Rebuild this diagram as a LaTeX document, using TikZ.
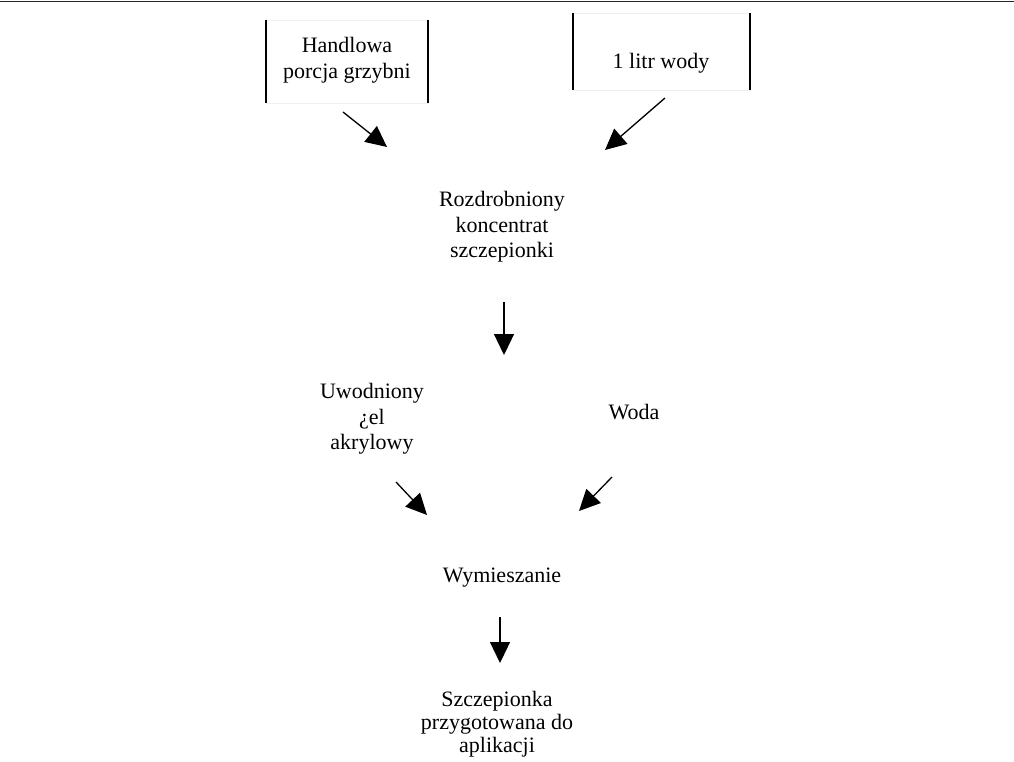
\documentclass[tikz,border=0pt]{standalone}
\usepackage{fontspec}
\setmainfont{Liberation Serif}
\usetikzlibrary{arrows.meta}

\begin{document}
\begin{tikzpicture}[x=1pt, y=-1pt, >={Triangle[length=21pt, width=20pt]},
    lbl/.style={align=center, inner sep=0pt, font=\fontsize{22}{25.5}\selectfont},
    inbox/.style={draw=black!6, line width=0.6pt, inner sep=0pt},
    flow/.style={->, line width=1.3pt}]
    \useasboundingbox (0,0) rectangle (1014,762);
    \draw[line width=1.2pt, black!85] (0,1.5) -- (1014,1.5);

    % inputs
    \node[inbox, minimum width=162pt, minimum height=83pt] (hbox) at (347,61.5) {};
    \node[inbox, minimum width=177pt, minimum height=77pt] (wbox) at (661.5,51.5) {};
    \draw[line width=2pt] (hbox.north west) -- (hbox.south west) (hbox.north east) -- (hbox.south east);
    \draw[line width=2pt] (wbox.north west) -- (wbox.south west) (wbox.north east) -- (wbox.south east);
    \node[lbl] (handlowa) at (347,60) {Handlowa\\porcja grzybni};
    \node[lbl] (litr) at (661,63) {1 litr wody};

    \node[lbl] (rozdr) at (502,227) {Rozdrobniony\\koncentrat\\szczepionki};
    \node[lbl] (zel) at (372,419) {Uwodniony\\¿el\\akrylowy};
    \node[lbl] (woda) at (634,412) {Woda};
    \node[lbl] (mix) at (502,578) {Wymieszanie};
    \node[lbl, font=\fontsize{22}{23}\selectfont] (szczep) at (497,724) {Szczepionka\\przygotowana do\\aplikacji};

    % arrow ends
    \coordinate (a1) at (343,112); \coordinate (b1) at (387,147);
    \coordinate (a2) at (665,98);  \coordinate (b2) at (605,150);
    \coordinate (a3) at (504,302); \coordinate (b3) at (504,355);
    \coordinate (a4) at (396,482); \coordinate (b4) at (427,515);
    \coordinate (a5) at (612,477); \coordinate (b5) at (579,511);
    \coordinate (a6) at (500,617); \coordinate (b6) at (500,663);

    \draw[flow] (a1) -- (b1);
    \draw[flow] (a2) -- (b2);
    \draw[flow] (a3) -- (b3);
    \draw[flow] (a4) -- (b4);
    \draw[flow] (a5) -- (b5);
    \draw[flow] (a6) -- (b6);
\end{tikzpicture}
\end{document}
